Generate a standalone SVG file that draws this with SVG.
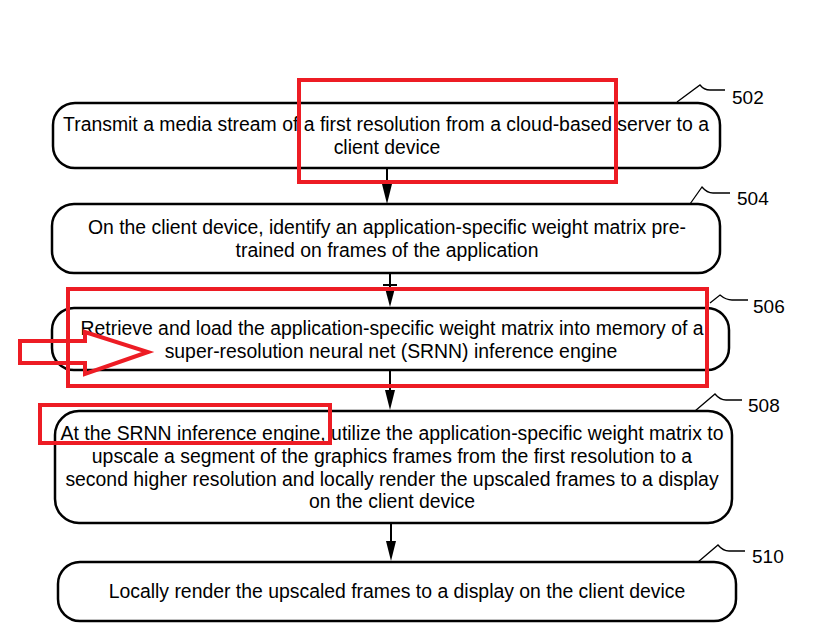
<svg xmlns="http://www.w3.org/2000/svg" width="822" height="638" viewBox="0 0 822 638">
<defs>
<style>
.box{fill:#fff;stroke:#000;stroke-width:2.5}
.t{font-family:"Liberation Sans",Arial,sans-serif;font-size:19.4px;fill:#000;text-anchor:middle}
.lbl{font-family:"Liberation Sans",Arial,sans-serif;font-size:19px;fill:#000}
.sq{fill:none;stroke:#000;stroke-width:1.3}
.con{stroke:#000;stroke-width:2;fill:none}
.hd{fill:#000}
.red{fill:none;stroke:#ED1C24;stroke-width:4}
</style>
</defs>
<rect width="822" height="638" fill="#fff"/>
<g id="connectors">
<line class="con" x1="387" y1="167" x2="387" y2="186"/>
<polygon class="hd" points="382,184 392,184 387,204"/>
<line class="con" x1="390" y1="273" x2="390" y2="290"/>
<line class="con" x1="383" y1="285" x2="397" y2="285"/>
<polygon class="hd" points="385,288 395,288 390,307"/>
<line class="con" x1="390" y1="370" x2="390" y2="392"/>
<polygon class="hd" points="385,390 395,390 390,410"/>
<line class="con" x1="391" y1="523" x2="391" y2="543"/>
<polygon class="hd" points="386,541 396,541 391,561"/>
</g>
<g id="n502">
<rect class="box" x="53" y="103" width="667" height="65" rx="22"/>
<text class="t" x="386" y="131">Transmit a media stream of a first resolution from a cloud-based server to a</text>
<text class="t" x="387" y="154">client device</text>
<path class="sq" d="M677,102 L700,85 Q704,90 710,90 L725,90"/>
<text class="lbl" x="732" y="104">502</text>
</g>
<g id="n504">
<rect class="box" x="52" y="204" width="668" height="69" rx="22"/>
<text class="t" x="387" y="234">On the client device, identify an application-specific weight matrix pre-</text>
<text class="t" x="387" y="257">trained on frames of the application</text>
<path class="sq" d="M690,204 L702,187 Q707,193 713,193 L730,193"/>
<text class="lbl" x="737" y="205">504</text>
</g>
<g id="n506">
<rect class="box" x="52" y="308" width="677" height="62" rx="22"/>
<text class="t" x="392" y="335">Retrieve and load the application-specific weight matrix into memory of a</text>
<text class="t" x="391" y="358">super-resolution neural net (SRNN) inference engine</text>
<path class="sq" d="M710,303 L720,295 Q726,300 732,300 L748,300"/>
<text class="lbl" x="753" y="313">506</text>
</g>
<g id="n508">
<rect class="box" x="55" y="411" width="677" height="112" rx="24"/>
<text class="t" x="392" y="440">At the SRNN inference engine, utilize the application-specific weight matrix to</text>
<text class="t" x="392" y="463">upscale a segment of the graphics frames from the first resolution to a</text>
<text class="t" x="392" y="486">second higher resolution and locally render the upscaled frames to a display</text>
<text class="t" x="392" y="508">on the client device</text>
<path class="sq" d="M695,411 L715,394 Q720,400 726,400 L742,400"/>
<text class="lbl" x="748" y="412">508</text>
</g>
<g id="n510">
<rect class="box" x="58" y="562" width="678" height="59" rx="22"/>
<text class="t" x="397" y="598">Locally render the upscaled frames to a display on the client device</text>
<path class="sq" d="M698,562 L718,545 Q723,551 729,551 L745,551"/>
<text class="lbl" x="752" y="563">510</text>
</g>
<g id="annotations">
<rect class="red" x="299" y="80" width="317" height="102"/>
<rect class="red" x="68" y="289" width="639" height="97"/>
<rect class="red" x="40" y="405" width="290" height="38"/>
<polygon class="red" points="20,341 85,341 85,332 148,352 85,374 85,363 20,363"/>
</g>
</svg>
